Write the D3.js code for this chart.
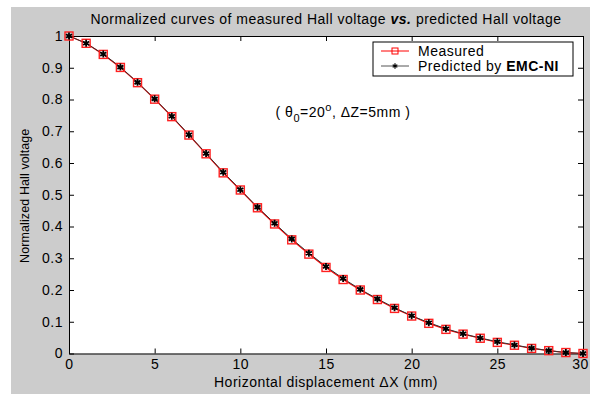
<!DOCTYPE html>
<html>
<head>
<meta charset="utf-8">
<script src="https://cdn.jsdelivr.net/npm/d3@7"></script>
<style>
  body { margin: 0; background: #fff; }
  svg { display: block; font-family: "Liberation Sans", Arial, sans-serif; }
  svg text { letter-spacing: 0.5px; }
</style>
</head>
<body>
<div id="app"></div>
<script>
// horizontal displacement (mm)
const dx = d3.range(0, 31);
// normalized Hall voltage, measured
const measured = [1.000, 0.977, 0.942, 0.901, 0.853, 0.801, 0.746, 0.688, 0.629, 0.569,
  0.515, 0.459, 0.408, 0.358, 0.313, 0.271, 0.233, 0.200, 0.170, 0.142,
  0.118, 0.095, 0.076, 0.061, 0.048, 0.035, 0.026, 0.016, 0.009, 0.003, 0.000];
// predicted by EMC-NI
const predicted = [1.000, 0.977, 0.943, 0.902, 0.854, 0.802, 0.747, 0.689, 0.630, 0.571,
  0.516, 0.461, 0.410, 0.361, 0.316, 0.274, 0.236, 0.202, 0.172, 0.144,
  0.119, 0.097, 0.078, 0.062, 0.049, 0.037, 0.027, 0.017, 0.009, 0.003, 0.000];
const xTicks = [0, 5, 10, 15, 20, 25, 30];
const yTicks = [0, 0.1, 0.2, 0.3, 0.4, 0.5, 0.6, 0.7, 0.8, 0.9, 1];

const width = 590, height = 394;
const svg = d3.select('#app').append('svg').attr('width', width).attr('height', height);

// figure background
svg.append('rect').attr('x', 11).attr('y', 7).attr('width', width - 11).attr('height', height - 7)
  .attr('fill', '#cccccc');

const m = { left: 69, right: 583, top: 36, bottom: 353.5 };
const x = d3.scaleLinear().domain([0, 30]).range([m.left, m.right]);
const y = d3.scaleLinear().domain([0, 1]).range([m.bottom, m.top]);

svg.append('rect').attr('x', m.left).attr('y', m.top)
  .attr('width', m.right - m.left).attr('height', m.bottom - m.top)
  .attr('fill', '#fff');

const tickLen = 5;
const fmt = d => String(d);

// axes (ticks inward, box on)
const axB = svg.append('g').attr('transform', `translate(0,${m.bottom})`)
  .call(d3.axisBottom(x).tickValues(xTicks).tickSizeInner(-tickLen).tickSizeOuter(0).tickPadding(8).tickFormat(fmt));
const axT = svg.append('g').attr('transform', `translate(0,${m.top})`)
  .call(d3.axisTop(x).tickValues(xTicks).tickSizeInner(-tickLen).tickSizeOuter(0).tickFormat(''));
const axL = svg.append('g').attr('transform', `translate(${m.left},0)`)
  .call(d3.axisLeft(y).tickValues(yTicks).tickSizeInner(-tickLen).tickSizeOuter(0).tickPadding(6).tickFormat(fmt));
const axR = svg.append('g').attr('transform', `translate(${m.right},0)`)
  .call(d3.axisRight(y).tickValues(yTicks).tickSizeInner(-tickLen).tickSizeOuter(0).tickFormat(''));

[axB, axT, axL, axR].forEach(a => {
  a.select('.domain').attr('stroke', '#000').attr('stroke-width', 1);
  a.selectAll('.tick line').attr('stroke', '#000');
  a.selectAll('.tick text').attr('font-size', 14).attr('fill', '#000')
    .attr('font-family', '"Liberation Sans", Arial, sans-serif');
});
axB.selectAll('.tick text').attr('dy', '0.55em');
// keep the last label inside the window edge
axB.selectAll('.tick text').filter(d => d === 30).attr('x', -3);

// series
const line = d3.line().x((d, i) => x(dx[i])).y(d => y(d));
svg.append('path').datum(measured).attr('d', line)
  .attr('fill', 'none').attr('stroke', '#ff0000').attr('stroke-width', 1.2);
svg.append('path').datum(predicted).attr('d', line)
  .attr('fill', 'none').attr('stroke', '#333').attr('stroke-width', 1);

const sq = 8;
svg.append('g').selectAll('rect').data(measured).join('rect')
  .attr('x', (d, i) => x(dx[i]) - sq / 2).attr('y', d => y(d) - sq / 2)
  .attr('width', sq).attr('height', sq)
  .attr('fill', 'none').attr('stroke', '#ff2020').attr('stroke-width', 1.4);

const star = d3.symbol().type(d3.symbolAsterisk).size(34);
svg.append('g').selectAll('path').data(predicted).join('path')
  .attr('transform', (d, i) => `translate(${x(dx[i])},${y(d)})`)
  .attr('d', star).attr('fill', 'none').attr('stroke', '#000').attr('stroke-width', 1.8);

// title
const title = svg.append('text').attr('x', (m.left + m.right) / 2).attr('y', 24)
  .attr('text-anchor', 'middle').attr('font-size', 14).attr('fill', '#000');
title.append('tspan').text('Normalized curves of measured Hall voltage ');
title.append('tspan').attr('font-weight', 'bold').attr('font-style', 'italic').text('vs.');
title.append('tspan').text(' predicted Hall voltage');

// axis labels
svg.append('text').attr('x', (m.left + m.right) / 2).attr('y', 387)
  .attr('text-anchor', 'middle').attr('font-size', 14).text('Horizontal displacement \u0394X (mm)');
svg.append('text').attr('transform', `translate(29,${(m.top + m.bottom) / 2 + 1}) rotate(-90)`)
  .attr('text-anchor', 'middle').attr('font-size', 12.5).style('letter-spacing', '0.1px')
  .text('Normalized Hall voltage');

// annotation
const ann = svg.append('text').attr('x', 343).attr('y', 117)
  .attr('text-anchor', 'middle').attr('font-size', 14);
ann.append('tspan').text('( \u03b8');
ann.append('tspan').attr('font-size', 11).attr('dy', 5).text('0');
ann.append('tspan').attr('dy', -5).text('=20');
ann.append('tspan').attr('font-size', 11).attr('dy', -6).text('o');
ann.append('tspan').attr('dy', 6).text(', \u0394Z=5mm )');

// legend
const lg = svg.append('g');
lg.append('rect').attr('x', 373).attr('y', 42).attr('width', 200).attr('height', 34)
  .attr('fill', '#fff').attr('stroke', '#000').attr('stroke-width', 1);
const entries = [
  { label: 'Measured', color: '#ff0000', y: 51, kind: 'sq' },
  { label: 'Predicted by ', bold: 'EMC-NI', color: '#555', y: 66, kind: 'star' }
];
entries.forEach(e => {
  lg.append('line').attr('x1', 381).attr('x2', 409).attr('y1', e.y).attr('y2', e.y)
    .attr('stroke', e.color).attr('stroke-width', 1);
  if (e.kind === 'sq') {
    lg.append('rect').attr('x', 395 - 3).attr('y', e.y - 3).attr('width', 6).attr('height', 6)
      .attr('fill', 'none').attr('stroke', '#ff0000');
  } else {
    lg.append('path').attr('transform', `translate(395,${e.y})`)
      .attr('d', d3.symbol().type(d3.symbolAsterisk).size(20)).attr('stroke', '#000').attr('stroke-width', 1.2);
  }
  const t = lg.append('text').attr('x', 418).attr('y', e.y + 5).attr('font-size', 14).text(e.label);
  if (e.bold) t.append('tspan').attr('font-weight', 'bold').text(e.bold);
});
</script>
</body>
</html>
